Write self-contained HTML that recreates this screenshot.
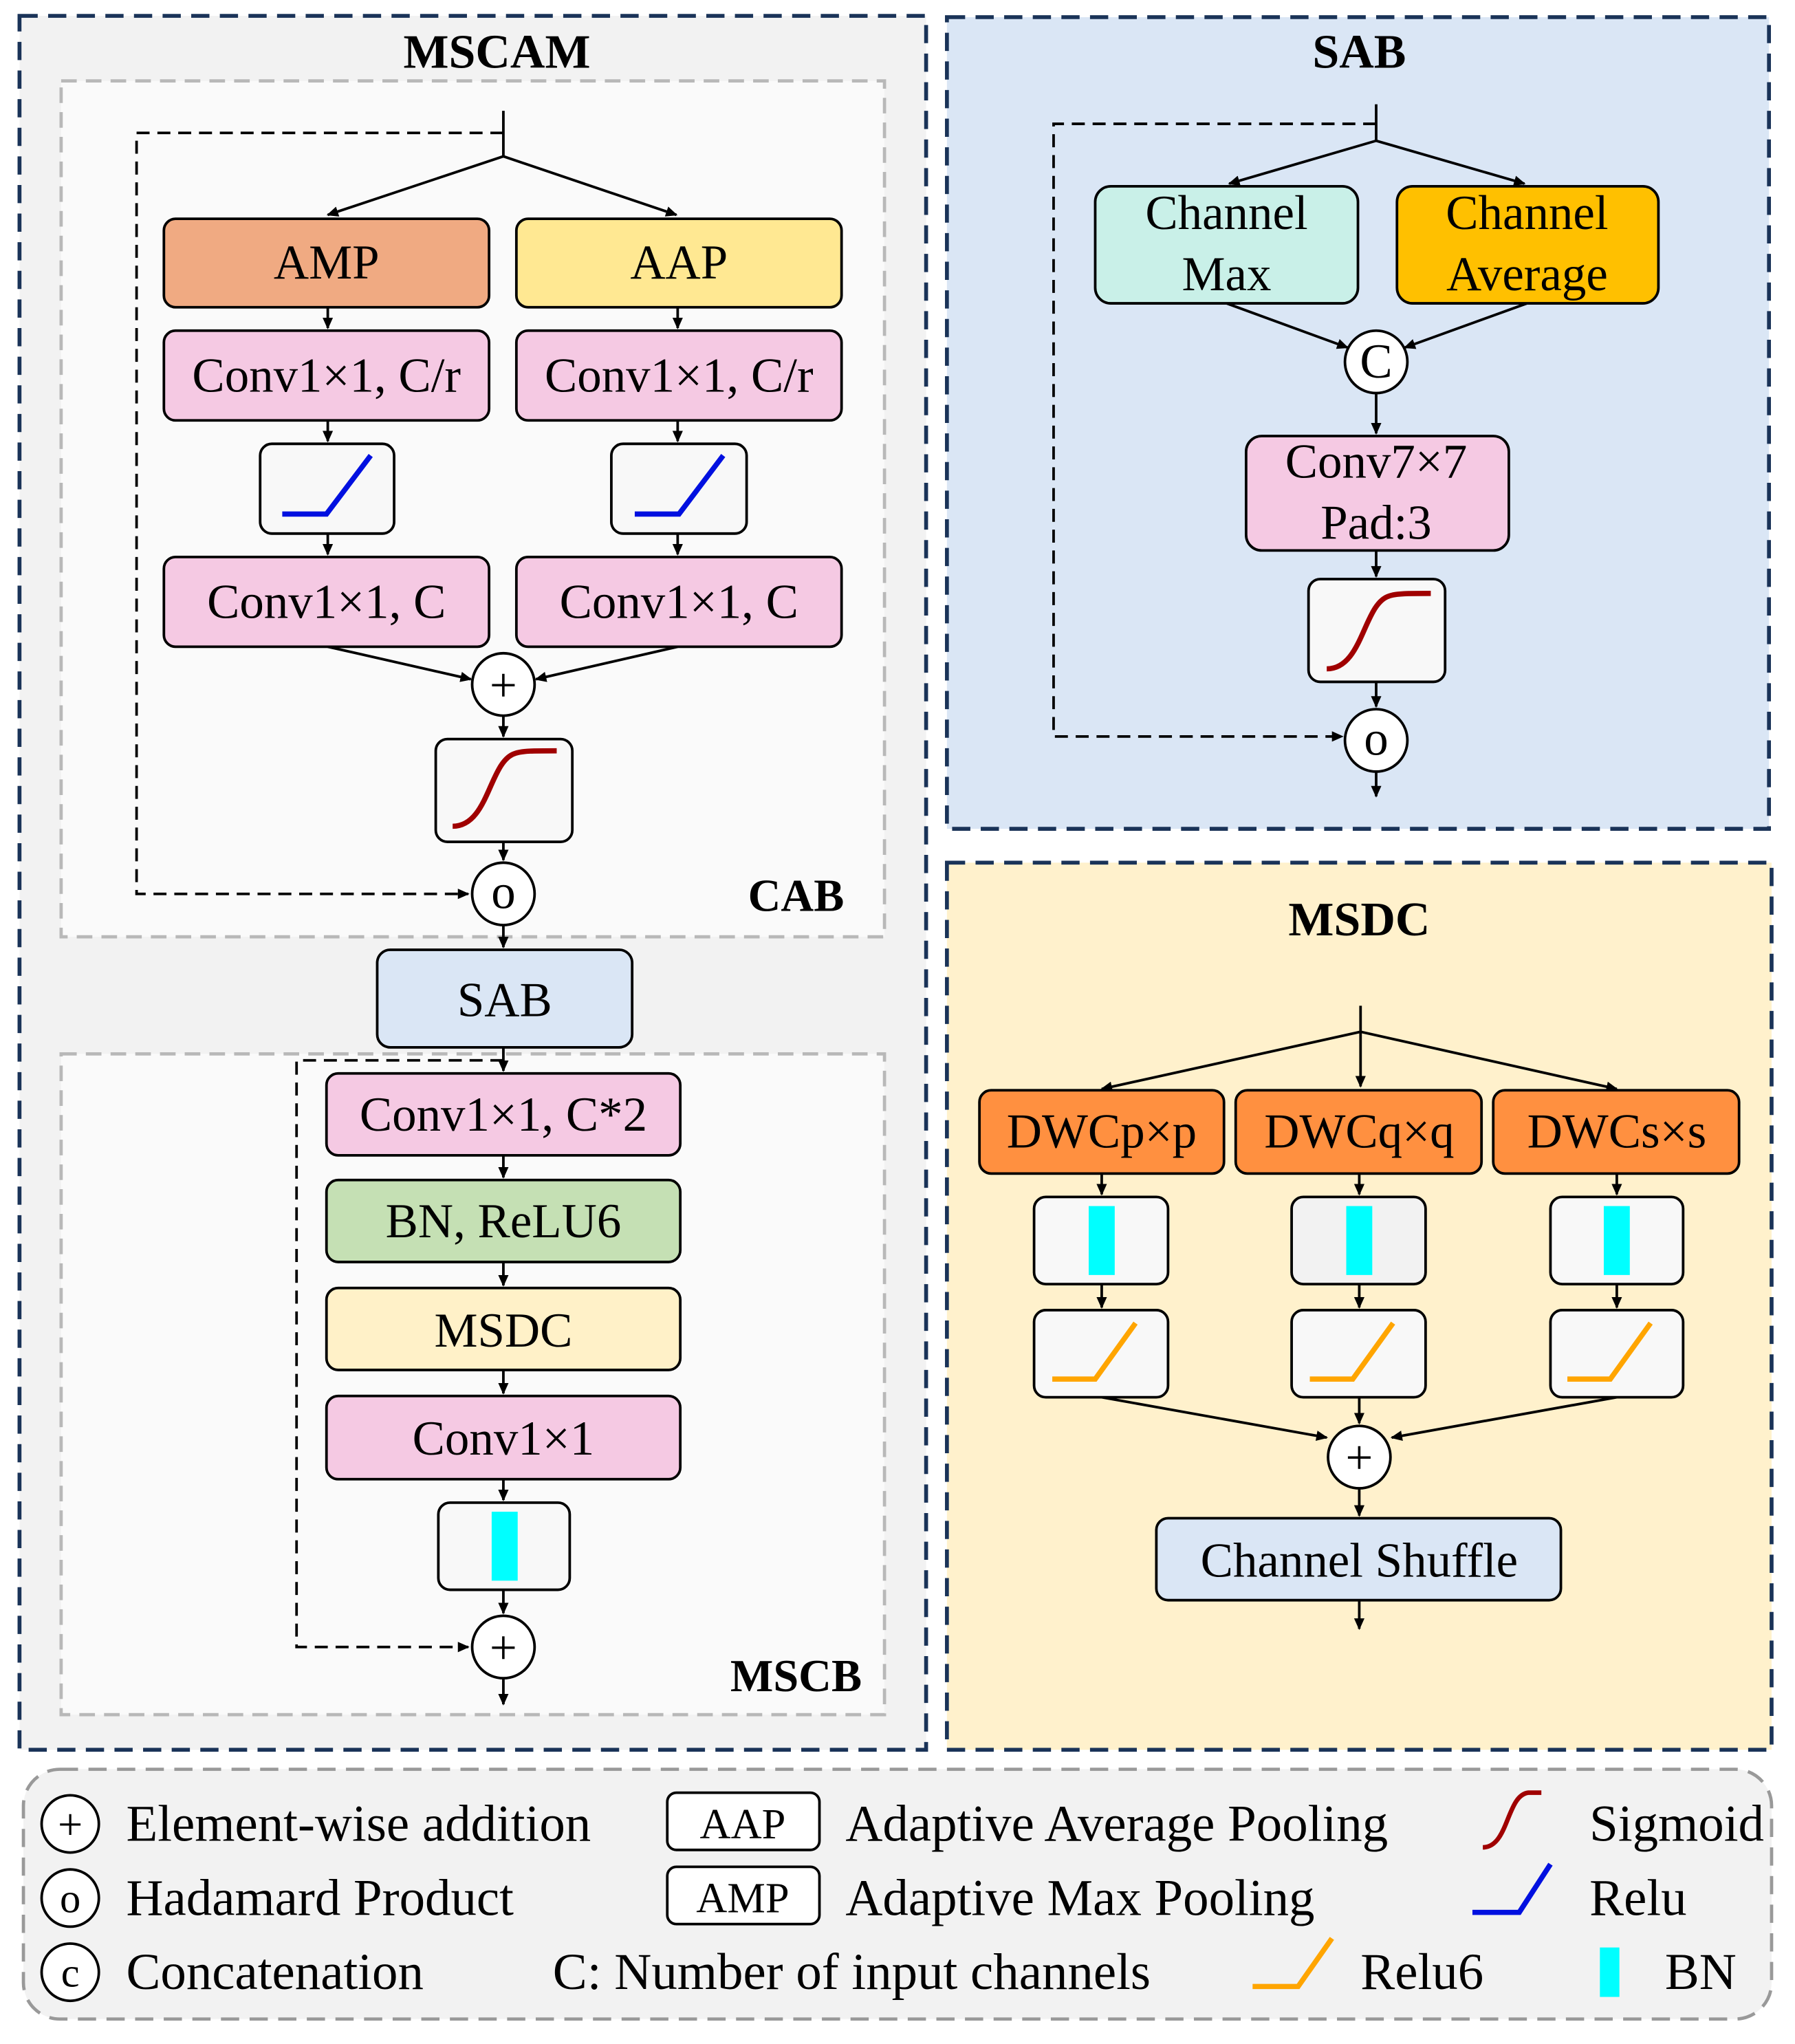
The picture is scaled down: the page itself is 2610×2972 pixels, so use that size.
<!DOCTYPE html>
<html><head><meta charset="utf-8"><style>html,body{margin:0;padding:0;background:#fff}svg{display:block}</style></head>
<body>
<svg width="2610" height="2972" viewBox="0 0 1380 1571" xmlns="http://www.w3.org/2000/svg" font-family="Liberation Serif, serif">
<defs>
<marker id="a" markerWidth="10" markerHeight="10" refX="8" refY="5" orient="auto" markerUnits="userSpaceOnUse"><path d="M0,1 L9,5 L0,9 z" fill="#000"/></marker>
<g id="relu"><path d="M-34,22 H0 L34,-23" fill="none" stroke="#0010e0" stroke-width="4"/></g>
<g id="sig"><path d="M-40,30 C-12,30 -12,-20 8,-26 C14,-28 22,-28 40,-28" fill="none" stroke="#a00000" stroke-width="4"/></g>
<g id="relu6"><path d="M-38,20 H-5 L26,-23" fill="none" stroke="#ffa500" stroke-width="4"/></g>
</defs>
<rect width="1380" height="1571" fill="#fff"/>
<!-- MSCAM -->
<rect x="15" y="12" width="697" height="1333" fill="#f2f2f2" stroke="#1a3358" stroke-width="3" stroke-dasharray="14,8"/>
<text x="382" y="52" font-size="37" font-weight="bold" text-anchor="middle">MSCAM</text>
<rect x="47" y="62" width="633" height="658" fill="#fafafa" stroke="#b8b8b8" stroke-width="2.5" stroke-dasharray="12,7"/>
<text x="612" y="700" font-size="35" font-weight="bold" text-anchor="middle">CAB</text>
<g stroke="#000" stroke-width="2" fill="none">
<path d="M387,85 V120 M387,120 L252,165" marker-end="url(#a)"/>
<path d="M387,120 L520,165" marker-end="url(#a)"/>
<path d="M387,102 H105 V687 H360" stroke-dasharray="10,6" marker-end="url(#a)"/>
<path d="M252,236 V252" marker-end="url(#a)"/><path d="M521,236 V252" marker-end="url(#a)"/>
<path d="M252,323 V339" marker-end="url(#a)"/><path d="M521,323 V339" marker-end="url(#a)"/>
<path d="M252,410 V426" marker-end="url(#a)"/><path d="M521,410 V426" marker-end="url(#a)"/>
<path d="M252,497 L362,522" marker-end="url(#a)"/><path d="M521,497 L412,522" marker-end="url(#a)"/>
<path d="M387,550 V566" marker-end="url(#a)"/>
<path d="M387,647 V661" marker-end="url(#a)"/>
<path d="M387,711 V728" marker-end="url(#a)"/>
</g>
<g stroke="#000" stroke-width="2">
<rect x="126" y="168" width="250" height="68" rx="9" fill="#f0aa82"/>
<rect x="397" y="168" width="250" height="68" rx="9" fill="#ffe892"/>
<rect x="126" y="254" width="250" height="69" rx="9" fill="#f5c9e3"/>
<rect x="397" y="254" width="250" height="69" rx="9" fill="#f5c9e3"/>
<rect x="200" y="341" width="103" height="69" rx="9" fill="#f8f8f8"/>
<rect x="470" y="341" width="104" height="69" rx="9" fill="#f8f8f8"/>
<rect x="126" y="428" width="250" height="69" rx="9" fill="#f5c9e3"/>
<rect x="397" y="428" width="250" height="69" rx="9" fill="#f5c9e3"/>
<circle cx="387" cy="526" r="24" fill="#fff"/>
<rect x="335" y="568" width="105" height="79" rx="9" fill="#f8f8f8"/>
<circle cx="387" cy="687" r="24" fill="#fff"/>
</g>
<use href="#relu" x="251" y="373"/><use href="#relu" x="522" y="373"/>
<use href="#sig" x="388" y="605"/>
<g font-size="37.5" text-anchor="middle">
<text x="251" y="214">AMP</text><text x="522" y="214">AAP</text>
<text x="251" y="301">Conv1×1, C/r</text><text x="522" y="301">Conv1×1, C/r</text>
<text x="251" y="475">Conv1×1, C</text><text x="522" y="475">Conv1×1, C</text>
<text x="387" y="539">+</text><text x="387" y="698">o</text>
</g>
<rect x="290" y="730" width="196" height="75" rx="10" fill="#dae6f5" stroke="#000" stroke-width="2"/>
<text x="388" y="781" font-size="37.5" text-anchor="middle">SAB</text>
<rect x="47" y="810" width="633" height="508" fill="#fafafa" stroke="#b8b8b8" stroke-width="2.5" stroke-dasharray="12,7"/>
<text x="612" y="1300" font-size="35" font-weight="bold" text-anchor="middle">MSCB</text>
<g stroke="#000" stroke-width="2" fill="none">
<path d="M387,805 V823" marker-end="url(#a)"/>
<path d="M387,815 H228 V1266 H360" stroke-dasharray="10,6" marker-end="url(#a)"/>
<path d="M387,888 V905" marker-end="url(#a)"/><path d="M387,970 V988" marker-end="url(#a)"/>
<path d="M387,1053 V1071" marker-end="url(#a)"/><path d="M387,1137 V1153" marker-end="url(#a)"/>
<path d="M387,1222 V1240" marker-end="url(#a)"/><path d="M387,1290 V1310" marker-end="url(#a)"/>
</g>
<g stroke="#000" stroke-width="2">
<rect x="251" y="825" width="272" height="63" rx="9" fill="#f5c9e3"/>
<rect x="251" y="907" width="272" height="63" rx="9" fill="#c5e0b4"/>
<rect x="251" y="990" width="272" height="63" rx="9" fill="#fff1c8"/>
<rect x="251" y="1073" width="272" height="64" rx="9" fill="#f5c9e3"/>
<rect x="337" y="1155" width="101" height="67" rx="9" fill="#f8f8f8"/>
<circle cx="387" cy="1266" r="24" fill="#fff"/>
</g>
<rect x="378" y="1162" width="20" height="53" fill="#00ffff"/>
<g font-size="37.5" text-anchor="middle">
<text x="387" y="869">Conv1×1, C*2</text><text x="387" y="951">BN, ReLU6</text>
<text x="387" y="1035">MSDC</text><text x="387" y="1118">Conv1×1</text><text x="387" y="1279">+</text>
</g>
<!-- SAB -->
<rect x="728" y="13" width="632" height="624" fill="#dae6f5" stroke="#1a3358" stroke-width="3" stroke-dasharray="14,8"/>
<text x="1045" y="52" font-size="37" font-weight="bold" text-anchor="middle">SAB</text>
<g stroke="#000" stroke-width="2" fill="none">
<path d="M1058,80 V108 L945,141" marker-end="url(#a)"/><path d="M1058,108 L1172,141" marker-end="url(#a)"/>
<path d="M1058,95 H810 V566 H1032" stroke-dasharray="10,6" marker-end="url(#a)"/>
<path d="M943,233 L1036,267" marker-end="url(#a)"/><path d="M1174,233 L1080,267" marker-end="url(#a)"/>
<path d="M1058,302 V333" marker-end="url(#a)"/><path d="M1058,423 V443" marker-end="url(#a)"/>
<path d="M1058,524 V543" marker-end="url(#a)"/><path d="M1058,593 V612" marker-end="url(#a)"/>
</g>
<g stroke="#000" stroke-width="2">
<rect x="842" y="143" width="202" height="90" rx="12" fill="#c9f0e8"/>
<rect x="1074" y="143" width="201" height="90" rx="12" fill="#ffc000"/>
<circle cx="1058" cy="278" r="24" fill="#fff"/>
<rect x="958" y="335" width="202" height="88" rx="12" fill="#f5c9e3"/>
<rect x="1006" y="445" width="105" height="79" rx="9" fill="#f8f8f8"/>
<circle cx="1058" cy="569" r="24" fill="#fff"/>
</g>
<use href="#sig" x="1060" y="484"/>
<g font-size="37.5" text-anchor="middle">
<text x="943" y="176">Channel</text><text x="943" y="223">Max</text>
<text x="1174" y="176">Channel</text><text x="1174" y="223">Average</text>
<text x="1058" y="290">C</text>
<text x="1058" y="367">Conv7×7</text><text x="1058" y="414">Pad:3</text>
<text x="1058" y="580">o</text>
</g>
<!-- MSDC -->
<rect x="728" y="663" width="634" height="682" fill="#fff1cc" stroke="#1a3358" stroke-width="3" stroke-dasharray="14,8"/>
<text x="1045" y="719" font-size="37" font-weight="bold" text-anchor="middle">MSDC</text>
<g stroke="#000" stroke-width="2" fill="none">
<path d="M1046,773 V793 L847,837" marker-end="url(#a)"/><path d="M1046,793 V835" marker-end="url(#a)"/><path d="M1046,793 L1243,837" marker-end="url(#a)"/>
<path d="M847,902 V918" marker-end="url(#a)"/><path d="M1045,902 V918" marker-end="url(#a)"/><path d="M1243,902 V918" marker-end="url(#a)"/>
<path d="M847,987 V1005" marker-end="url(#a)"/><path d="M1045,987 V1005" marker-end="url(#a)"/><path d="M1243,987 V1005" marker-end="url(#a)"/>
<path d="M847,1074 L1020,1105" marker-end="url(#a)"/><path d="M1045,1074 V1094" marker-end="url(#a)"/><path d="M1243,1074 L1070,1105" marker-end="url(#a)"/>
<path d="M1045,1144 V1165" marker-end="url(#a)"/><path d="M1045,1230 V1252" marker-end="url(#a)"/>
</g>
<g stroke="#000" stroke-width="2">
<rect x="753" y="838" width="188" height="64" rx="9" fill="#ff9040"/>
<rect x="950" y="838" width="189" height="64" rx="9" fill="#ff9040"/>
<rect x="1148" y="838" width="189" height="64" rx="9" fill="#ff9040"/>
<rect x="795" y="920" width="103" height="67" rx="9" fill="#f8f8f8"/>
<rect x="993" y="920" width="103" height="67" rx="9" fill="#f2f2f2"/>
<rect x="1192" y="920" width="102" height="67" rx="9" fill="#f8f8f8"/>
<rect x="795" y="1007" width="103" height="67" rx="9" fill="#f8f8f8"/>
<rect x="993" y="1007" width="103" height="67" rx="9" fill="#f8f8f8"/>
<rect x="1192" y="1007" width="102" height="67" rx="9" fill="#f8f8f8"/>
<circle cx="1045" cy="1120" r="24" fill="#fff"/>
<rect x="889" y="1167" width="311" height="63" rx="9" fill="#dae6f5"/>
</g>
<rect x="837" y="927" width="20" height="53" fill="#00ffff"/>
<rect x="1035" y="927" width="20" height="53" fill="#00ffff"/>
<rect x="1233" y="927" width="20" height="53" fill="#00ffff"/>
<use href="#relu6" x="847" y="1040"/><use href="#relu6" x="1045" y="1040"/><use href="#relu6" x="1243" y="1040"/>
<g font-size="37.5" text-anchor="middle">
<text x="847" y="882">DWCp×p</text><text x="1045" y="882">DWCq×q</text><text x="1243" y="882">DWCs×s</text>
<text x="1045" y="1133">+</text><text x="1045" y="1212">Channel Shuffle</text>
</g>
<!-- Legend -->
<rect x="18" y="1360" width="1344" height="192" rx="28" fill="#f2f2f2" stroke="#999" stroke-width="2.5" stroke-dasharray="14,8"/>
<g stroke="#000" stroke-width="2" fill="#fff">
<circle cx="54" cy="1402" r="22"/><circle cx="54" cy="1459" r="22"/><circle cx="54" cy="1516" r="22"/>
<rect x="513" y="1378" width="117" height="44" rx="7"/><rect x="513" y="1435" width="117" height="44" rx="7"/>
</g>
<path d="M1140,1420 C1160,1420 1158,1380 1175,1378 L1185,1378" fill="none" stroke="#a00000" stroke-width="3.5"/>
<path d="M1132,1470 H1168 L1192,1433" fill="none" stroke="#0010e0" stroke-width="4"/>
<path d="M963,1527 H998 L1024,1490" fill="none" stroke="#ffa500" stroke-width="4"/>
<rect x="1230" y="1497" width="15" height="38" fill="#00ffff"/>
<g font-size="39.6">
<text x="54" y="1414" text-anchor="middle" font-size="34">+</text>
<text x="54" y="1470" text-anchor="middle" font-size="32">o</text>
<text x="54" y="1527" text-anchor="middle" font-size="32">c</text>
<text x="97" y="1415">Element-wise addition</text>
<text x="97" y="1472">Hadamard Product</text>
<text x="97" y="1529">Concatenation</text>
<text x="571" y="1413" text-anchor="middle" font-size="33">AAP</text>
<text x="571" y="1470" text-anchor="middle" font-size="33">AMP</text>
<text x="650" y="1415">Adaptive Average Pooling</text>
<text x="650" y="1472">Adaptive Max Pooling</text>
<text x="425" y="1529">C: Number of input channels</text>
<text x="1222" y="1415">Sigmoid</text>
<text x="1222" y="1472">Relu</text>
<text x="1046" y="1529">Relu6</text>
<text x="1280" y="1529">BN</text>
</g>
</svg>
</body></html>
